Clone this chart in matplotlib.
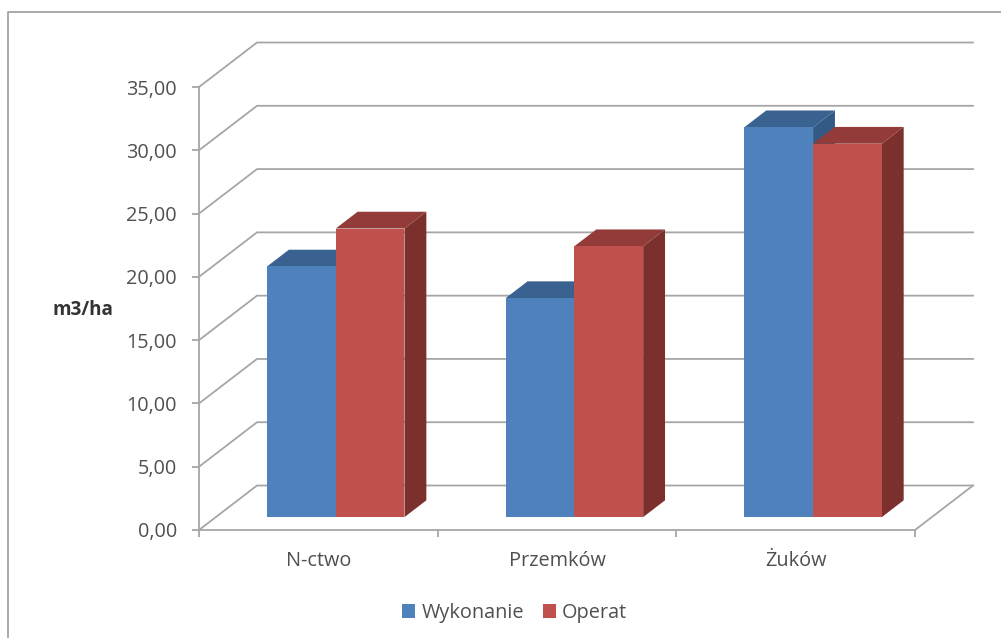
import numpy as np
import matplotlib
matplotlib.use('Agg')
import matplotlib.pyplot as plt
from matplotlib.patches import Polygon, Patch

categories = ['N-ctwo', 'Przemków', 'Żuków']
wykonanie = [19.8, 17.3, 30.8]
operat = [22.8, 21.4, 29.5]
y_ticks = [0, 5, 10, 15, 20, 25, 30, 35]
y_labels = ['0,00', '5,00', '10,00', '15,00', '20,00', '25,00', '30,00', '35,00']

W, H = 1001, 638
plt.rcParams['font.family'] = ['Open Sans', 'DejaVu Sans']

# 3D look: how far the back wall is shifted, in data units
wall_dx = 58 / 238.67
wall_dy = 44.5 / 12.66
front = 0.29
back = 0.667
bar_w = 0.288
bar_off = 0.2145

GRID = '#a6a6a6'
TEXT = '#505050'
FS = 14.3


def poly(ax, pts, color, z):
    ax.add_patch(Polygon(pts, closed=True, fc=color, ec='none', zorder=z, clip_on=False))


def bar3d(ax, x, h, front_c, top_c, side_c, z):
    fx = front * wall_dx
    fy = front * wall_dy
    bx = back * wall_dx
    by = back * wall_dy
    l = x + fx
    r = l + bar_w
    poly(ax, [(r, fy), (r + bx - fx, by), (r + bx - fx, h + by), (r, h + fy)], side_c, z)
    poly(ax, [(l, h + fy), (r, h + fy), (r + bx - fx, h + by), (l + bx - fx, h + by)], top_c, z)
    poly(ax, [(l, fy), (r, fy), (r, h + fy), (l, h + fy)], front_c, z)


fig = plt.figure(figsize=(W / 100, H / 100), dpi=100)
ax = fig.add_axes([199 / W, (H - 530) / H, 716 / W, 443 / H])
ax.set_xlim(0, 3)
ax.set_ylim(0, 35)
ax.patch.set_visible(False)

# chart frame, open at the bottom
fig.add_artist(plt.Line2D([8 / W, 8 / W, 1], [0, 1 - 12 / H, 1 - 12 / H], color='#a3a3a3', lw=1.3))

# gridlines on side wall and back wall
for v in y_ticks:
    ax.plot([0, wall_dx, 3 + wall_dx], [v, v + wall_dy, v + wall_dy], color=GRID, lw=1.3, clip_on=False, zorder=1)
ax.plot([3, 3 + wall_dx], [0, wall_dy], color=GRID, lw=1.3, clip_on=False, zorder=1)

for i in range(len(categories)):
    bar3d(ax, i + bar_off, wykonanie[i], '#4f81bd', '#3a6290', '#335a85', 3 + i)
    bar3d(ax, i + bar_off + bar_w, operat[i], '#c0504d', '#933b38', '#7b302e', 3.5 + i)

for s in ['top', 'right']:
    ax.spines[s].set_visible(False)
for s in ['left', 'bottom']:
    ax.spines[s].set_color(GRID)
    ax.spines[s].set_linewidth(1.3)
ax.spines['bottom'].set_zorder(2)

ax.set_yticks(y_ticks)
ax.set_yticklabels(y_labels, fontsize=FS, color=TEXT)
ax.set_xticks([0, 1, 2, 3])
ax.set_xticklabels([])
ax.set_xticks(np.arange(len(categories)) + 0.5, categories, minor=True, fontsize=FS, color=TEXT)
ax.tick_params(axis='both', which='major', color=GRID, width=1.3, length=5)
ax.tick_params(axis='y', pad=11)
ax.tick_params(axis='x', which='minor', length=0, pad=15)

fig.text(83 / W, 1 - 310 / H, 'm3/ha', fontsize=13.6, fontweight='bold', color='#333333', ha='center', va='center')

handles = [Patch(fc='#4f81bd', label='Wykonanie'), Patch(fc='#c0504d', label='Operat')]
fig.legend(handles=handles, ncol=2, loc='center', bbox_to_anchor=(514.5 / W, 1 - 613 / H), frameon=False,
           fontsize=FS, labelcolor=TEXT, handlelength=0.65, handleheight=0.65, handletextpad=0.3,
           columnspacing=0.95, borderpad=0)

fig.savefig('out.png', dpi=100)
